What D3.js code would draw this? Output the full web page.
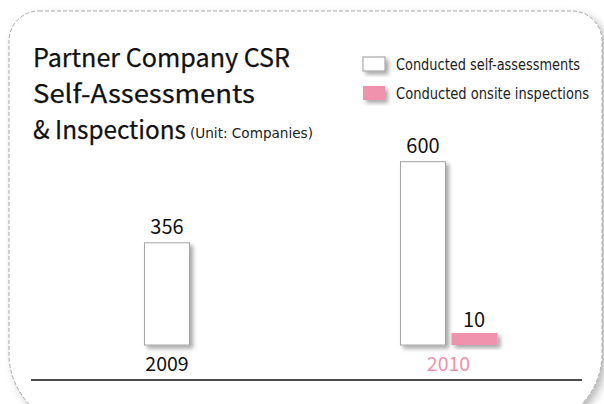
<!DOCTYPE html>
<html><head><meta charset="utf-8">
<script src="https://cdn.jsdelivr.net/npm/d3@7"></script>
<style>
html,body{margin:0;padding:0;background:#fff;}
svg{display:block;}
</style></head>
<body>
<script>
const years = ["2009", "2010"];
const selfAssessments = [356, 600];
const onsiteInspections = [null, 10];
const seriesNames = ["Conducted self-assessments", "Conducted onsite inspections"];
const titleLines = ["Partner Company CSR", "Self-Assessments", "& Inspections"];
const unitLabel = "(Unit: Companies)";

const W = 604, H = 404;
const PINK = "#f092ad";
const svg = d3.select("body").append("svg").attr("width", W).attr("height", H);
const defs = svg.append("defs");
const f1 = defs.append("filter").attr("id","boxShadow").attr("x","-10%").attr("y","-10%").attr("width","130%").attr("height","130%");
f1.append("feDropShadow").attr("dx",4).attr("dy",4).attr("stdDeviation",4).attr("flood-color","#000").attr("flood-opacity",0.28);
const f2 = defs.append("filter").attr("id","barShadow").attr("x","-30%").attr("y","-30%").attr("width","170%").attr("height","170%");
f2.append("feDropShadow").attr("dx",3).attr("dy",3).attr("stdDeviation",2.2).attr("flood-color","#000").attr("flood-opacity",0.35);

// Frame (dashed rounded card)
const L = 9, T = 11, R = 602, B = 426, rt = 30, rb = 72;
const p = d3.path();
p.moveTo(L + rt, T);
p.lineTo(R - rt, T);
p.arcTo(R, T, R, T + rt, rt);
p.lineTo(R, B - rb);
p.arcTo(R, B, R - rb, B, rb);
p.lineTo(L + rb, B);
p.arcTo(L, B, L, B - rb, rb);
p.lineTo(L, T + rt);
p.arcTo(L, T, L + rt, T, rt);
p.closePath();
svg.append("path").attr("d", p.toString()).attr("fill","#fff").attr("filter","url(#boxShadow)");
svg.append("path").attr("d", p.toString()).attr("fill","#fff")
  .attr("stroke","#a9a9a9").attr("stroke-width",1).attr("stroke-dasharray","4,2");

// Title
const titleFont = "'Noto Sans CJK KR', 'Noto Sans', sans-serif";
const narrowFont = "'Liberation Sans Narrow', 'DejaVu Sans Condensed', 'Open Sans', sans-serif";
const titleWidths = [257, 222, 153];
const titleBase = [67, 103, 139];
titleLines.forEach((t, i) => {
  svg.append("text").attr("x", 33).attr("y", titleBase[i])
    .attr("font-family", titleFont).attr("font-size", 25).attr("font-weight", 400)
    .attr("stroke", "#111").attr("stroke-width", 0.25)
    .attr("fill", "#111").attr("textLength", titleWidths[i]).attr("lengthAdjust","spacingAndGlyphs")
    .text(t);
});
svg.append("text").attr("x", 190).attr("y", 138)
  .attr("font-family", narrowFont).attr("font-size", 14)
  .attr("fill", "#222").attr("textLength", 123).attr("lengthAdjust","spacingAndGlyphs")
  .text(unitLabel);

// Legend
const legendY = [57, 86];
const legendW = [184, 193];
seriesNames.forEach((n, i) => {
  svg.append("rect").attr("x", 363).attr("y", legendY[i]).attr("width", 22).attr("height", 14)
    .attr("fill", i === 0 ? "#fff" : PINK)
    .attr("stroke", i === 0 ? "#999" : "none").attr("stroke-width", 1)
    .attr("filter","url(#barShadow)");
  svg.append("text").attr("x", 396).attr("y", legendY[i] + 12.5)
    .attr("font-family", narrowFont).attr("font-size", 15)
    .attr("fill", "#222").attr("textLength", legendW[i]).attr("lengthAdjust","spacingAndGlyphs")
    .text(n);
});

// Scales
const x = d3.scalePoint().domain(years).range([167, 448.5]);
const y = d3.scalePow().exponent(1.12).domain([0, 600]).range([345, 161.7]);
const barW = 45, gap = 6, minH = 12;

const rows = years.map((yr, i) => ({ year: yr, self: selfAssessments[i], onsite: onsiteInspections[i] }));

rows.forEach(r => {
  const cx = x(r.year);
  const hasOnsite = r.onsite != null;
  const selfX = hasOnsite ? cx - gap / 2 - barW : cx - barW / 2;
  svg.append("rect").attr("x", selfX).attr("y", y(r.self))
    .attr("width", barW).attr("height", y(0) - y(r.self))
    .attr("fill", "#fff").attr("stroke", "#a5a5a5").attr("stroke-width", 1)
    .attr("filter", "url(#barShadow)");
  svg.append("text").attr("x", selfX + barW / 2).attr("y", y(r.self) - 8.5)
    .attr("text-anchor", "middle").attr("font-family", titleFont).attr("font-size", 20)
    .attr("fill", "#111").text(r.self);
  if (hasOnsite) {
    const ox = cx + gap / 2;
    const h = Math.max(minH, y(0) - y(r.onsite));
    svg.append("rect").attr("x", ox).attr("y", y(0) - h)
      .attr("width", barW + 1).attr("height", h)
      .attr("fill", PINK).attr("filter", "url(#barShadow)");
    svg.append("text").attr("x", ox + barW / 2).attr("y", y(0) - h - 6.5)
      .attr("text-anchor", "middle").attr("font-family", titleFont).attr("font-size", 20)
      .attr("fill", "#111").text(r.onsite);
  }
});

// X axis
const axisG = svg.append("g").attr("transform", "translate(0,380)");
axisG.append("line").attr("x1", 31).attr("x2", 582).attr("stroke", "#111").attr("stroke-width", 1.6);
years.forEach((yr, i) => {
  svg.append("text").attr("x", x(yr)).attr("y", 371)
    .attr("text-anchor", "middle").attr("font-family", titleFont).attr("font-size", 19.5)
    .attr("fill", i === years.length - 1 ? PINK : "#111").text(yr);
});
</script>
</body></html>
